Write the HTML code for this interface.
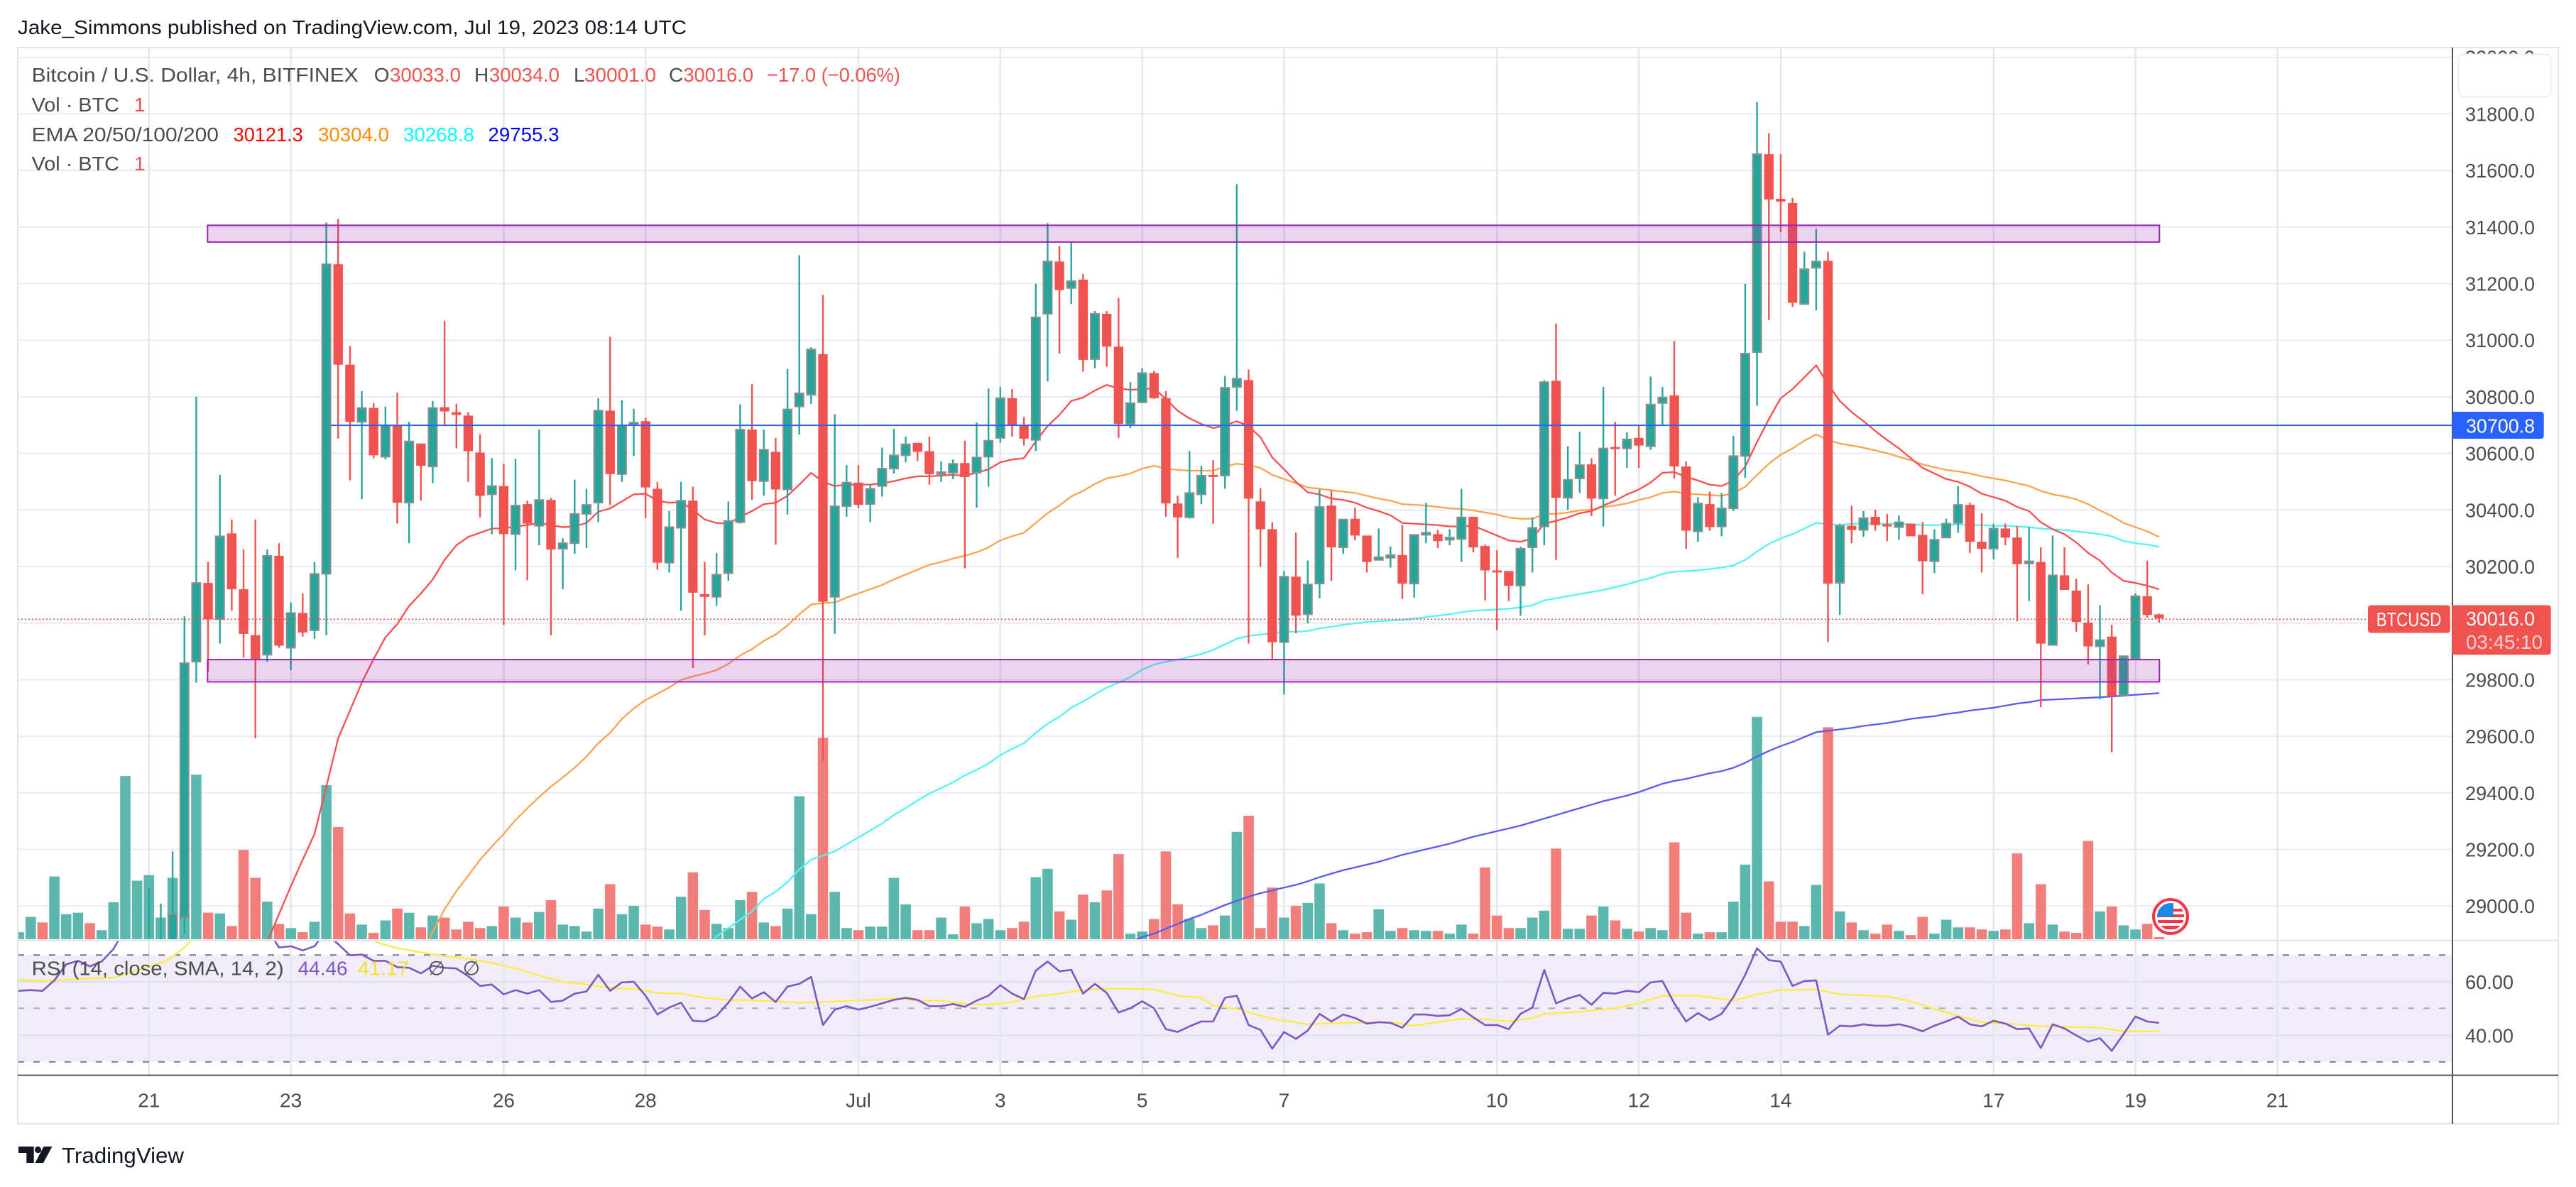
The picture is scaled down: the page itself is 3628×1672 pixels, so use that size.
<!DOCTYPE html>
<html><head><meta charset="utf-8"><style>html,body{margin:0;padding:0;background:#fff}svg{display:block}text{font-family:"Liberation Sans",Arial,sans-serif}</style></head>
<body>
<svg xmlns="http://www.w3.org/2000/svg" width="3628" height="1672" viewBox="0 0 3628 1672">
<defs>
<clipPath id="cm"><rect x="25" y="67" width="3429" height="1256"/></clipPath>
<clipPath id="cr"><rect x="25" y="1325" width="3429" height="189"/></clipPath>
<clipPath id="fc"><circle cx="0" cy="0" r="19"/></clipPath>
</defs>
<rect width="3628" height="1672" fill="#fff"/>

<!-- title -->
<text x="25" y="48" font-size="28" fill="#131722" textLength="942" lengthAdjust="spacingAndGlyphs">Jake_Simmons published on TradingView.com, Jul 19, 2023 08:14 UTC</text>

<!-- RSI band -->
<rect x="25" y="1345.3" width="3429" height="150.4" fill="#f0ecf8"/>

<!-- horizontal grid -->
<path d="M25 80.7H3454M25 160.4H3454M25 240.1H3454M25 319.8H3454M25 399.5H3454M25 479.2H3454M25 558.9H3454M25 638.6H3454M25 718.3H3454M25 798H3454M25 877.7H3454M25 957.4H3454M25 1037.1H3454M25 1116.8H3454M25 1196.5H3454M25 1276.2H3454" stroke="#e7ecf2" stroke-width="2" fill="none"/>
<path d="M25 1383H3454M25 1458.5H3454" stroke="#dcdfea" stroke-width="2" fill="none"/>
<!-- vertical grid -->
<path d="M209.8 67V1514M409.6 67V1514M709.4 67V1514M909.2 67V1514M1209 67V1514M1408.8 67V1514M1608.7 67V1514M1808.5 67V1514M2108.3 67V1514M2308.1 67V1514M2507.9 67V1514M2807.7 67V1514M3007.6 67V1514M3207.4 67V1514" stroke="#e0e7ef" stroke-width="2.4" fill="none"/>

<!-- RSI dashed -->
<path d="M25 1345.3H3454M25 1495.7H3454" stroke="#787b86" stroke-width="2" stroke-dasharray="9 13" fill="none"/>
<path d="M25 1420.2H3454" stroke="#a9acb6" stroke-width="2" stroke-dasharray="9 13" fill="none"/>

<!-- main pane -->
<g clip-path="url(#cm)">
<g transform="matrix(16.653 0 0 0.9821 209.8 60)" fill="none">
<path vector-effect="non-scaling-stroke" stroke="#5cb8ae" stroke-width="14.6" d="M-11 1276V1286M-10 1254V1286M-8 1196V1286M-7 1250V1286M-6 1248V1286M-4 1273V1286M-3 1233V1286M-2 1052V1286M-1 1202V1286M0 1194V1286M1 1255V1286M2 1198V1286M3 1250V1286M4 1050V1286M6 1249V1286M10 1232V1286M12 1270V1286M14 1261V1286M15 1065V1286M18 1265V1286M20 1259V1286M22 1248V1286M24 1252V1286M29 1267V1286M31 1255V1286M33 1247V1286M35 1265V1286M36 1267V1286M37 1275V1286M38 1242V1286M40 1250V1286M41 1238V1286M44 1272V1286M45 1225V1286M48 1264V1286M49 1270V1286M50 1230V1286M52 1262V1286M54 1242V1286M55 1081V1286M56 1250V1286M58 1218V1286M59 1270V1286M61 1268V1286M62 1268V1286M63 1198V1286M64 1236V1286M67 1255V1286M68 1279V1286M70 1263V1286M71 1257V1286M72 1273V1286M75 1197V1286M76 1185V1286M78 1258V1286M80 1233V1286M83 1278V1286M84 1275V1286M88 1257V1286M89 1270V1286M91 1252V1286M92 1132V1286M96 1255V1286M98 1234V1286M99 1206V1286M101 1273V1286M104 1243V1286M105 1274V1286M107 1273V1286M108 1274V1286M110 1278V1286M111 1265V1286M116 1270V1286M117 1255V1286M118 1245V1286M120 1271V1286M121 1271V1286M123 1239V1286M125 1271V1286M127 1270V1286M128 1273V1286M131 1278V1286M133 1276V1286M134 1232V1286M135 1179V1286M136 967V1286M140 1267V1286M141 1208V1286M143 1246V1286M145 1273V1286M148 1274V1286M151 1278V1286M152 1258V1286M153 1269V1286M156 1274V1286M159 1263V1286M161 1265V1286M165 1246V1286M167 1266V1286M168 1272V1286"/>
<path vector-effect="non-scaling-stroke" stroke="#f27d7a" stroke-width="14.6" d="M-9 1262V1286M-5 1263V1286M5 1248V1286M7 1267V1286M8 1158V1286M9 1198V1286M11 1264V1286M13 1276V1286M16 1125V1286M17 1249V1286M19 1277V1286M21 1242V1286M23 1269V1286M25 1255V1286M26 1272V1286M27 1261V1286M28 1270V1286M30 1239V1286M32 1262V1286M34 1230V1286M39 1207V1286M42 1265V1286M43 1268V1286M46 1190V1286M47 1244V1286M51 1218V1286M53 1267V1286M57 997V1286M60 1273V1286M65 1273V1286M66 1273V1286M69 1239V1286M73 1270V1286M74 1261V1286M77 1246V1286M79 1222V1286M81 1216V1286M82 1164V1286M85 1257V1286M86 1160V1286M87 1236V1286M90 1266V1286M93 1109V1286M94 1270V1286M95 1212V1286M97 1238V1286M100 1263V1286M102 1278V1286M103 1276V1286M106 1270V1286M109 1274V1286M112 1278V1286M113 1183V1286M114 1252V1286M115 1270V1286M119 1156V1286M122 1252V1286M124 1259V1286M126 1275V1286M129 1147V1286M130 1248V1286M132 1276V1286M137 1203V1286M138 1261V1286M139 1261V1286M142 982V1286M144 1262V1286M146 1278V1286M147 1265V1286M149 1280V1286M150 1254V1286M154 1269V1286M155 1272V1286M157 1272V1286M158 1163V1286M160 1207V1286M162 1275V1286M163 1277V1286M164 1145V1286M166 1239V1286M169 1264V1286M170 1283V1286"/>

<!-- EMAs -->
<polyline vector-effect="non-scaling-stroke" stroke="#5a5af5" stroke-width="2.3" stroke-linejoin="round" points="83,1290 84,1283 85,1278 86,1271 87,1264 88,1257 89,1251 90,1244 91,1237 92,1231 93,1225 94,1220 95,1216 96,1212 97,1208 98,1203 99,1197 100,1192 101,1187 102,1183 103,1179 104,1175 105,1170 106,1165 107,1161 108,1157 109,1153 110,1149 111,1144 112,1139 113,1135 114,1131 115,1127 116,1123 117,1118 118,1113 119,1108 120,1103 121,1098 122,1093 123,1088 124,1084 125,1080 126,1075 127,1069 128,1063 129,1059 130,1056 131,1052 132,1048 133,1045 134,1040 135,1033 136,1024 137,1016 138,1009 139,1003 140,996 141,989 142,987 143,985 144,983 145,980 146,978 147,976 148,973 149,970 150,968 151,966 152,963 153,961 154,958 155,956 156,954 157,951 158,948 159,946 160,943 165,939 170,933"/>
<polyline vector-effect="non-scaling-stroke" stroke="#55f2f2" stroke-width="2.3" stroke-linejoin="round" points="47,1300 48,1282 49,1270 50,1258 51,1246 52,1228 53,1218 54,1204 55,1186 56,1172 57,1166 58,1160 59,1150 60,1140 61,1130 62,1120 63,1108 64,1098 65,1087 66,1077 67,1069 68,1061 69,1051 70,1043 71,1034 72,1022 73,1013 74,1005 75,990 76,977 77,967 78,954 79,945 80,935 81,925 82,918 83,910 84,899 85,892 86,888 87,885 88,881 89,877 90,871 91,863 92,855 93,851 94,849 95,847 96,845 97,845 98,844 99,840 100,838 101,835 102,833 103,831 104,830 105,829 106,828 107,826 108,824 109,822 110,820 111,817 112,815 113,814 114,813 115,812 116,810 117,807 118,800 119,797 120,794 121,791 122,788 123,785 124,781 125,777 126,772 127,768 128,762 129,759 130,758 131,757 132,755 133,753 134,750 135,742 136,730 137,719 138,711 139,705 140,697 141,689 142,691 143,692 144,690 148,690 149,691 150,692 152,692 153,691 154,692 155,692 156,693 157,693 158,694 159,695 160,697 161,698 162,699 163,701 164,703 165,705 166,708 167,715 168,718 169,720 170,723"/>
<polyline vector-effect="non-scaling-stroke" stroke="#ffa24f" stroke-width="2.3" stroke-linejoin="round" points="23,1310 24,1275 25,1243 26,1217 27,1195 28,1172 29,1153 30,1135 31,1115 32,1098 33,1082 34,1067 35,1054 36,1040 37,1024 38,1005 39,990 40,970 41,955 42,943 43,934 44,925 45,914 46,909 47,905 48,900 49,891 50,879 51,870 52,858 53,849 54,836 55,820 56,806 57,804 58,803 59,796 60,790 61,784 62,778 63,770 64,763 65,756 66,749 67,745 68,740 69,736 70,731 71,724 72,714 73,708 74,703 75,689 76,675 77,664 78,651 79,643 80,633 81,625 82,622 83,618 84,611 85,607 86,611 87,613 88,614 89,614 90,614 91,608 92,604 93,606 94,610 95,620 96,626 97,632 98,638 99,640 100,642 101,644 102,646 103,650 104,654 105,657 106,662 107,663 108,664 109,666 110,668 111,669 112,671 113,674 114,677 115,681 116,683 117,683 118,676 119,676 120,674 121,671 122,670 123,666 124,664 125,661 126,656 127,652 128,646 129,644 130,647 131,648 132,649 133,650 134,646 135,637 136,620 137,604 138,591 139,582 140,571 141,562 142,570 143,575 144,578 145,581 146,585 147,589 148,594 149,599 150,605 151,609 152,613 153,615 154,618 155,622 156,625 157,628 158,632 159,636 160,643 161,648 162,651 163,655 164,662 165,671 166,679 167,689 168,695 169,701 170,709"/>
<polyline vector-effect="non-scaling-stroke" stroke="#f5504e" stroke-width="2.3" stroke-linejoin="round" points="9,1330 10,1290 11,1250 12,1210 13,1172 14,1135 15,1067 16,998 17,958 18,918 19,884 20,853 21,834 22,808 23,790 24,770 25,742 26,721 27,709 28,703 29,697 30,697 31,694 32,692 33,689 34,692 35,695 36,694 37,689 38,673 39,668 40,658 41,648 42,647 43,657 44,660 45,659 46,670 47,684 48,689 49,690 50,680 51,672 52,662 53,660 54,650 55,634 56,617 57,630 58,636 59,634 60,634 61,634 62,632 63,629 64,625 65,622 66,622 67,621 68,620 69,621 70,617 71,612 72,602 73,598 74,596 75,572 76,550 77,534 78,514 79,509 80,499 81,491 82,496 83,498 84,497 85,496 86,511 87,528 88,539 89,547 90,553 91,549 92,543 93,550 94,566 95,595 96,612 97,630 98,645 99,648 100,654 101,656 102,660 103,667 104,672 105,678 106,689 107,690 108,691 109,692 110,694 111,694 112,693 113,700 114,707 115,714 116,716 117,711 118,690 119,686 120,681 121,675 122,672 123,664 124,657 125,648 126,641 127,631 128,617 129,616 130,623 131,628 132,634 133,636 134,628 135,608 136,573 137,540 138,510 139,497 140,480 141,463 142,490 143,514 144,530 145,543 146,557 147,570 148,582 149,596 150,610 151,618 152,626 153,630 154,637 155,647 156,652 157,657 158,666 159,672 160,688 161,698 162,705 163,717 164,732 165,743 166,760 167,772 168,775 169,779 170,784"/>

<!-- wicks -->
<path vector-effect="non-scaling-stroke" stroke="#26a69a" stroke-width="2.4" d="M0 1213V1300M1 1235V1300M2 1160V1300M3 823V1278M4 508V918M6 620V862M10 727V888M12 803V900M14 745V855M15 258V850M18 500V655M20 522V598M22 544V718M24 514V632M29 596V705M31 597V757M33 555V721M35 711V784M36 627V733M37 640V725M38 510V688M40 513V630M41 525V593M44 672V760M45 630V815M48 732V808M49 658V772M50 519V690M52 555V650M54 468V677M55 305V562M56 437V518M58 533V848M59 606V680M61 635V688M62 581V651M63 554V618M64 565V602M67 601V630M68 598V626M70 545V667M71 496V637M72 494V574M75 346V586M76 259V486M78 287V375M80 385V467M83 487V553M84 467V517M88 586V683M89 607V662M91 478V640M92 203V528M96 758V935M98 743V833M99 641V797M101 684V733M104 697V742M105 723V753M107 705V796M108 660V718M110 698V721M111 640V745M116 723V822M117 681V760M118 484V721M120 579V670M121 558V646M123 494V694M125 559V610M127 479V584M128 494V548M131 652V716M133 646V708M134 564V672M135 346V624M136 85V521M140 300V376M141 267V384M143 690V821M145 672V709M148 678V713M151 698V761M152 683V711M153 636V703M156 690V741M159 695V801M161 707V864M165 807V942M167 880V938M168 790V884"/>
<path vector-effect="non-scaling-stroke" stroke="#ef5350" stroke-width="2.4" d="M5 745V902M7 684V815M8 727V882M9 684V998M11 718V868M13 790V852M16 253V568M17 435V628M19 517V596M21 502V690M23 575V657M25 399V548M26 518V582M27 530V630M28 562V681M30 604V835M32 657V771M34 653V850M39 422V663M42 538V682M43 630V756M46 637V897M47 745V850M51 490V656M53 567V720M57 362V1030M60 606V668M65 574V600M66 565V634M69 571V754M73 497V565M74 537V578M77 292V446M79 332V472M81 385V465M82 366V567M85 471V511M86 500V680M87 650V739M90 599V690M93 469V862M94 639V752M95 688V884M97 703V847M100 642V772M102 667V714M103 707V760M106 692V798M109 699V725M112 680V731M113 720V800M114 728V843M115 758V801M119 403V742M122 596V679M124 544V650M126 549V610M129 428V625M130 601V726M132 644V700M137 130V398M138 160V272M139 223V379M142 300V860M144 664V718M146 670V700M147 676V715M149 690V708M150 688V791M154 660V732M155 675V760M157 690V721M158 693V830M160 724V953M162 724V785M163 769V845M164 777V892M166 835V1018M169 743V825M170 819V832"/>

<!-- bodies -->
<path vector-effect="non-scaling-stroke" fill="#26a69a" stroke="#8e8e8e" stroke-width="2" d="M1.64 1250h.72V1300h-.72zM2.64 890h.72V1255h-.72zM3.64 775h.72V888h-.72zM5.64 708h.72V827h-.72zM9.64 736h.72V878h-.72zM11.64 818h.72V868h-.72zM13.64 762h.72V843h-.72zM14.64 318h.72V762h-.72zM17.64 524h.72V544h-.72zM19.64 549h.72V594h-.72zM21.64 572h.72V660h-.72zM23.64 524h.72V608h-.72zM28.64 636h.72V648h-.72zM30.64 664h.72V705h-.72zM32.64 656h.72V693h-.72zM34.64 718h.72V726h-.72zM35.64 676h.72V718h-.72zM36.64 663h.72V676h-.72zM37.64 528h.72V660h-.72zM39.64 549h.72V619h-.72zM40.64 545h.72V548h-.72zM43.64 695h.72V746h-.72zM44.64 657h.72V696h-.72zM47.64 763h.72V795h-.72zM48.64 686h.72V761h-.72zM49.64 555h.72V688h-.72zM51.64 584h.72V629h-.72zM53.64 526h.72V641h-.72zM54.64 503h.72V522h-.72zM55.64 440h.72V505h-.72zM57.64 665h.72V795h-.72zM58.64 631h.72V665h-.72zM60.64 640h.72V662h-.72zM61.64 611h.72V636h-.72zM62.64 592h.72V611h-.72zM63.64 576h.72V592h-.72zM66.64 616h.72V619h-.72zM67.64 604h.72V617h-.72zM69.64 595h.72V617h-.72zM70.64 571h.72V594h-.72zM71.64 510h.72V567h-.72zM74.64 394h.72V570h-.72zM75.64 314h.72V389h-.72zM77.64 342h.72V352h-.72zM79.64 389h.72V454h-.72zM82.64 517h.72V547h-.72zM83.64 474h.72V516h-.72zM87.64 646h.72V681h-.72zM88.64 621h.72V648h-.72zM90.64 495h.72V621h-.72zM91.64 482h.72V494h-.72zM95.64 766h.72V860h-.72zM97.64 777h.72V820h-.72zM98.64 666h.72V776h-.72zM100.64 684h.72V724h-.72zM103.64 738h.72V742h-.72zM104.64 735h.72V739h-.72zM106.64 706h.72V776h-.72zM107.64 703h.72V706h-.72zM109.64 710h.72V713h-.72zM110.64 681h.72V712h-.72zM115.64 726h.72V779h-.72zM116.64 696h.72V724h-.72zM117.64 487h.72V694h-.72zM119.64 627h.72V653h-.72zM120.64 606h.72V625h-.72zM122.64 582h.72V654h-.72zM124.64 569h.72V582h-.72zM126.64 519h.72V579h-.72zM127.64 509h.72V517h-.72zM130.64 661h.72V701h-.72zM132.64 668h.72V694h-.72zM133.64 593h.72V668h-.72zM134.64 446h.72V593h-.72zM135.64 160h.72V444h-.72zM139.64 325h.72V375h-.72zM140.64 314h.72V323h-.72zM142.64 693h.72V775h-.72zM144.64 682h.72V699h-.72zM147.64 688h.72V695h-.72zM150.64 713h.72V744h-.72zM151.64 690h.72V710h-.72zM152.64 663h.72V689h-.72zM155.64 697h.72V726h-.72zM158.64 744h.72V747h-.72zM160.64 764h.72V864h-.72zM164.64 857h.72V866h-.72zM166.64 880h.72V936h-.72zM167.64 794h.72V884h-.72z"/>
<path fill="#ef5350" d="M4.6 775h.8V827h-.8zM6.6 704h.8V784h-.8zM7.6 784h.8V848h-.8zM8.6 850h.8V884h-.8zM10.6 736h.8V865h-.8zM12.6 818h.8V846h-.8zM15.6 318h.8V462h-.8zM16.6 462h.8V544h-.8zM18.6 524h.8V592h-.8zM20.6 549h.8V660h-.8zM22.6 575h.8V607h-.8zM24.6 523h.8V529h-.8zM25.6 530h.8V534h-.8zM26.6 535h.8V586h-.8zM27.6 588h.8V650h-.8zM29.6 636h.8V705h-.8zM31.6 662h.8V690h-.8zM33.6 656h.8V727h-.8zM38.6 528h.8V619h-.8zM41.6 543h.8V638h-.8zM42.6 640h.8V746h-.8zM45.6 657h.8V789h-.8zM46.6 791h.8V795h-.8zM50.6 555h.8V629h-.8zM52.6 587h.8V641h-.8zM56.6 447h.8V802h-.8zM59.6 631h.8V663h-.8zM64.6 574h.8V587h-.8zM65.6 586h.8V619h-.8zM68.6 603h.8V623h-.8zM72.6 510h.8V549h-.8zM73.6 549h.8V568h-.8zM76.6 314h.8V355h-.8zM78.6 340h.8V455h-.8zM80.6 389h.8V436h-.8zM81.6 436h.8V547h-.8zM84.6 474h.8V510h-.8zM85.6 510h.8V661h-.8zM86.6 661h.8V681h-.8zM89.6 620h.8V623h-.8zM92.6 484h.8V654h-.8zM93.6 658h.8V698h-.8zM94.6 698h.8V860h-.8zM96.6 766h.8V822h-.8zM99.6 664h.8V724h-.8zM101.6 683h.8V707h-.8zM102.6 707h.8V745h-.8zM105.6 735h.8V776h-.8zM108.6 705h.8V715h-.8zM111.6 680h.8V724h-.8zM112.6 722h.8V757h-.8zM113.6 757h.8V760h-.8zM114.6 758h.8V779h-.8zM118.6 485h.8V653h-.8zM121.6 605h.8V654h-.8zM123.6 580h.8V583h-.8zM125.6 567h.8V578h-.8zM128.6 506h.8V608h-.8zM129.6 608h.8V700h-.8zM131.6 662h.8V695h-.8zM136.6 160h.8V225h-.8zM137.6 224h.8V228h-.8zM138.6 230h.8V373h-.8zM141.6 313h.8V776h-.8zM143.6 693h.8V699h-.8zM145.6 680h.8V692h-.8zM146.6 691h.8V694h-.8zM148.6 690h.8V708h-.8zM149.6 706h.8V744h-.8zM153.6 663h.8V716h-.8zM154.6 716h.8V726h-.8zM156.6 697h.8V710h-.8zM157.6 710h.8V748h-.8zM159.6 745h.8V862h-.8zM161.6 764h.8V785h-.8zM162.6 786h.8V831h-.8zM163.6 832h.8V866h-.8zM165.6 852h.8V937h-.8zM168.6 794h.8V821h-.8zM169.6 820h.8V826h-.8z"/>
</g>

<!-- drawings -->
<rect x="292.3" y="317.3" width="2749" height="23.6" fill="#9c27b0" fill-opacity="0.2" stroke="#9c27b0" stroke-width="2"/>
<rect x="292.3" y="929.1" width="2749" height="31.4" fill="#9c27b0" fill-opacity="0.2" stroke="#9c27b0" stroke-width="2"/>
<path d="M465.8 599.1H3454" stroke="#2962ff" stroke-width="2"/>
<path d="M25 872.2H3335" stroke="#ef5350" stroke-width="1.6" stroke-dasharray="2 3"/>

<!-- flag icon -->
<g transform="translate(3057 1291)">
<circle r="24" fill="#fff" stroke="#f23645" stroke-width="4"/>
<g clip-path="url(#fc)">
<rect x="-19" y="-19" width="38" height="38" fill="#fff"/>
<rect x="-19" y="-11" width="38" height="4" fill="#f23645"/>
<rect x="-19" y="-3" width="38" height="4" fill="#f23645"/>
<rect x="-19" y="5" width="38" height="4" fill="#f23645"/>
<rect x="-19" y="13" width="38" height="5" fill="#f23645"/>
<rect x="-19" y="-19" width="23" height="19" fill="#1e88e5"/>
</g>
</g>
</g>

<!-- RSI lines -->
<g clip-path="url(#cr)">
<g transform="matrix(16.653 0 0 0.9821 209.8 60)" fill="none">
<polyline vector-effect="non-scaling-stroke" stroke="#ffeb3b" stroke-width="2.2" stroke-linejoin="round" points="-13,1342 -9,1346 -6,1343 -3,1341 -1,1331 1.5,1317 3,1298 3.6,1286 4.5,1200 18,1200 19.2,1290 20.8,1298 23,1305 25,1310 27,1314 29,1320 31,1328 33,1338 35,1347 37,1351 39,1356 41,1357 43,1363 45,1364 47,1370 49,1373 51,1374 53,1375 55,1377 57,1376 61,1373 63,1371 65,1374 67,1374 69,1379 71,1380 73,1376 75,1368 77,1364 79,1359 81,1357 83,1357 85,1358 87,1367 89,1370 90,1381 92,1386 95,1400 98,1408 101,1406 105,1405 107,1410 111,1400 113,1401 115,1404 117,1399 118,1393 121,1390 124,1385 126,1378 128,1367 131,1367 134,1374 136,1365 138,1359 141,1358 143,1365 147,1368 149,1375 151,1386 153,1396 155,1405 158,1408 160,1411 163,1412 165,1413 167,1418 170,1418"/>
<polyline vector-effect="non-scaling-stroke" stroke="#7e57c2" stroke-width="2.6" stroke-linejoin="round" points="-13,1362 -11,1360 -10,1359 -9,1360 -8,1345 -7,1322 -6,1317 -5,1325 -4,1318 -3,1300 -2.5,1285 -2,1200 10,1200 10.6,1287 11,1298 12,1296 13,1302 14,1296 14.4,1287 15,1200 15.6,1287 16,1293 17,1309 18,1308 19,1317 20,1317 21,1326 22,1327 23,1335 24,1324 25,1327 26,1328 27,1339 28,1353 29,1351 30,1365 31,1359 32,1364 33,1359 34,1376 35,1374 36,1364 37,1361 38,1337 39,1360 40,1348 41,1347 42,1367 43,1394 44,1384 45,1377 46,1403 47,1404 48,1396 49,1377 50,1354 51,1371 52,1362 53,1376 54,1354 55,1350 56,1340 57,1409 58,1387 59,1382 60,1387 61,1383 62,1378 63,1373 64,1370 65,1373 66,1382 67,1382 68,1379 69,1383 70,1374 71,1367 72,1352 73,1364 74,1372 75,1331 76,1318 77,1332 78,1330 79,1364 80,1350 81,1363 82,1391 83,1385 84,1375 85,1385 86,1415 87,1419 88,1411 89,1404 90,1404 91,1370 92,1367 93,1409 94,1416 95,1443 96,1419 97,1429 98,1417 99,1393 100,1404 101,1394 102,1399 103,1407 104,1405 105,1406 106,1413 107,1394 108,1394 109,1396 110,1395 111,1386 112,1398 113,1409 114,1409 115,1415 116,1393 117,1384 118,1330 119,1378 120,1371 121,1366 122,1380 123,1363 124,1364 125,1360 126,1362 127,1348 128,1346 129,1378 130,1404 131,1392 132,1402 133,1393 134,1369 135,1337 136,1299 137,1316 138,1318 139,1353 140,1346 141,1345 142,1423 143,1410 144,1411 145,1408 146,1410 147,1410 148,1408 149,1412 150,1418 151,1410 152,1404 153,1397 154,1408 155,1411 156,1403 157,1407 158,1415 159,1414 160,1442 161,1408 162,1414 163,1424 164,1433 165,1428 166,1446 167,1422 168,1397 169,1404 170,1406"/>
</g>
</g>

<!-- frame & axes -->
<rect x="25" y="67" width="3578" height="1516" fill="none" stroke="#e0e3eb" stroke-width="2"/>
<path d="M25 1324.8H3603" stroke="#e0e3eb" stroke-width="2"/>
<path d="M25 1514.6H3603" stroke="#50535e" stroke-width="2"/>
<path d="M3454 67V1583" stroke="#50535e" stroke-width="2"/>

<!-- legend -->
<g font-size="28" fill="#4c4c4c">
<text x="44.6" y="115" textLength="460" lengthAdjust="spacingAndGlyphs">Bitcoin / U.S. Dollar, 4h, BITFINEX</text>
<text x="526.8" y="115">O</text>
<text x="549" y="115" fill="#ef5350" textLength="100" lengthAdjust="spacingAndGlyphs">30033.0</text>
<text x="668" y="115">H</text>
<text x="689" y="115" fill="#ef5350" textLength="99" lengthAdjust="spacingAndGlyphs">30034.0</text>
<text x="808" y="115">L</text>
<text x="823" y="115" fill="#ef5350" textLength="101" lengthAdjust="spacingAndGlyphs">30001.0</text>
<text x="942" y="115">C</text>
<text x="962.5" y="115" fill="#ef5350" textLength="98.5" lengthAdjust="spacingAndGlyphs">30016.0</text>
<text x="1080" y="115" fill="#ef5350" textLength="188" lengthAdjust="spacingAndGlyphs">−17.0 (−0.06%)</text>

<text x="44.6" y="157" textLength="123.4" lengthAdjust="spacingAndGlyphs">Vol · BTC</text>
<text x="189" y="157" fill="#ef5350">1</text>

<text x="44.6" y="199" textLength="263.4" lengthAdjust="spacingAndGlyphs">EMA 20/50/100/200</text>
<text x="328.6" y="199" fill="#ff0000" textLength="98.2" lengthAdjust="spacingAndGlyphs">30121.3</text>
<text x="448" y="199" fill="#ff8c00" textLength="100" lengthAdjust="spacingAndGlyphs">30304.0</text>
<text x="568" y="199" fill="#00ffff" textLength="100" lengthAdjust="spacingAndGlyphs">30268.8</text>
<text x="687.5" y="199" fill="#0000ff" textLength="100" lengthAdjust="spacingAndGlyphs">29755.3</text>

<text x="44.6" y="240" textLength="123.4" lengthAdjust="spacingAndGlyphs">Vol · BTC</text>
<text x="189" y="240" fill="#ef5350">1</text>

<text x="44.6" y="1373.5" textLength="355" lengthAdjust="spacingAndGlyphs">RSI (14, close, SMA, 14, 2)</text>
<text x="419.6" y="1373.5" fill="#7e57c2" textLength="70" lengthAdjust="spacingAndGlyphs">44.46</text>
<text x="504" y="1373.5" fill="#f5e12c" textLength="71.8" lengthAdjust="spacingAndGlyphs">41.17</text>
<text x="602.6" y="1373.5">∅</text>
<text x="651.7" y="1373.5">∅</text>
</g>

<!-- price axis labels -->
<g font-size="28" fill="#4c4c4c">
<text x="3472" y="90.7" textLength="98" lengthAdjust="spacingAndGlyphs">32000.0</text>
<rect x="3462.7" y="76.4" width="130" height="60" rx="7" fill="#fff" stroke="#e6e8ee" stroke-width="1.5"/>
<text x="3472" y="170.4" textLength="98" lengthAdjust="spacingAndGlyphs">31800.0</text>
<text x="3472" y="250.1" textLength="98" lengthAdjust="spacingAndGlyphs">31600.0</text>
<text x="3472" y="329.8" textLength="98" lengthAdjust="spacingAndGlyphs">31400.0</text>
<text x="3472" y="409.5" textLength="98" lengthAdjust="spacingAndGlyphs">31200.0</text>
<text x="3472" y="489.2" textLength="98" lengthAdjust="spacingAndGlyphs">31000.0</text>
<text x="3472" y="568.9" textLength="98" lengthAdjust="spacingAndGlyphs">30800.0</text>
<text x="3472" y="648.6" textLength="98" lengthAdjust="spacingAndGlyphs">30600.0</text>
<text x="3472" y="728.3" textLength="98" lengthAdjust="spacingAndGlyphs">30400.0</text>
<text x="3472" y="808" textLength="98" lengthAdjust="spacingAndGlyphs">30200.0</text>
<text x="3472" y="967.4" textLength="98" lengthAdjust="spacingAndGlyphs">29800.0</text>
<text x="3472" y="1047.1" textLength="98" lengthAdjust="spacingAndGlyphs">29600.0</text>
<text x="3472" y="1126.8" textLength="98" lengthAdjust="spacingAndGlyphs">29400.0</text>
<text x="3472" y="1206.5" textLength="98" lengthAdjust="spacingAndGlyphs">29200.0</text>
<text x="3472" y="1286.2" textLength="98" lengthAdjust="spacingAndGlyphs">29000.0</text>
<text x="3472" y="1393" textLength="68" lengthAdjust="spacingAndGlyphs">60.00</text>
<text x="3472" y="1468.5" textLength="68" lengthAdjust="spacingAndGlyphs">40.00</text>
</g>

<!-- blue label -->
<path d="M3454 580H3578.7a4 4 0 0 1 4 4V614a4 4 0 0 1-4 4H3454z" fill="#2962ff"/>
<text x="3473" y="609.5" font-size="28" fill="#fff" textLength="97" lengthAdjust="spacingAndGlyphs">30700.8</text>

<!-- price label -->
<path d="M3453.3 852.5H3588.7a4 4 0 0 1 4 4V918.3a4 4 0 0 1-4 4H3457.3a4 4 0 0 1-4-4z" fill="#ef5350"/>
<text x="3473" y="881" font-size="28" fill="#fff" textLength="97" lengthAdjust="spacingAndGlyphs">30016.0</text>
<text x="3473" y="914" font-size="28" fill="#fbd0cf" textLength="108" lengthAdjust="spacingAndGlyphs">03:45:10</text>
<rect x="3335" y="852.5" width="115.7" height="39" rx="4" fill="#ef5350"/>
<text x="3346.7" y="882" font-size="28" fill="#fff" textLength="91.6" lengthAdjust="spacingAndGlyphs">BTCUSD</text>

<!-- time axis -->
<g font-size="28" fill="#4c4c4c" text-anchor="middle">
<text x="209.8" y="1559.5">21</text>
<text x="409.6" y="1559.5">23</text>
<text x="709.4" y="1559.5">26</text>
<text x="909.2" y="1559.5">28</text>
<text x="1209" y="1559.5">Jul</text>
<text x="1408.8" y="1559.5">3</text>
<text x="1608.7" y="1559.5">5</text>
<text x="1808.5" y="1559.5">7</text>
<text x="2108.3" y="1559.5">10</text>
<text x="2308.1" y="1559.5">12</text>
<text x="2507.9" y="1559.5">14</text>
<text x="2807.7" y="1559.5">17</text>
<text x="3007.6" y="1559.5">19</text>
<text x="3207.4" y="1559.5">21</text>
</g>

<!-- logo -->
<g fill="#131722">
<path d="M26 1615H47.7V1638H37.3V1624H26z"/>
<circle cx="53.5" cy="1619.5" r="4.6"/>
<path d="M61.5 1615H73.5L61 1638H49.5z"/>
</g>
<text x="87" y="1638" font-size="31" fill="#131722" textLength="172" lengthAdjust="spacingAndGlyphs">TradingView</text>
</svg>
</body></html>
